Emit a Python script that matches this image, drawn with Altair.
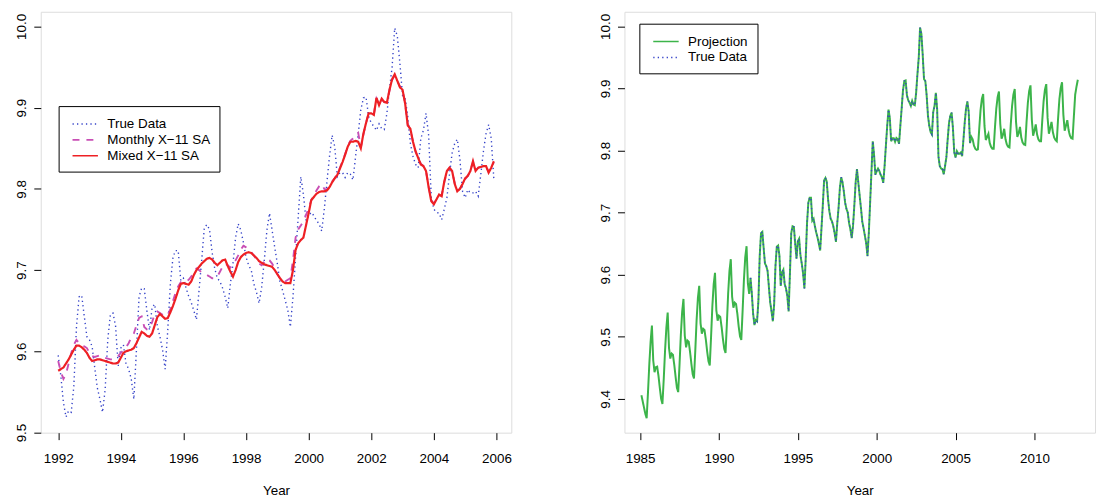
import altair as alt
import pandas as pd

FONT = "Liberation Sans"

# ---------------- data (monthly) ----------------
# True data, Jan 1992 .. Dec 2005
true_data = [
    9.595, 9.570, 9.537, 9.519, 9.527, 9.525, 9.557, 9.630, 9.667, 9.669, 9.643, 9.618,  # 1992
    9.614, 9.606, 9.580, 9.555, 9.541, 9.525, 9.553, 9.614, 9.645, 9.647, 9.631, 9.582,  # 1993
    9.604, 9.608, 9.585, 9.578, 9.566, 9.541, 9.602, 9.667, 9.678, 9.677, 9.650, 9.626,  # 1994
    9.654, 9.658, 9.631, 9.618, 9.602, 9.578, 9.626, 9.683, 9.716, 9.724, 9.724, 9.687,  # 1995
    9.690, 9.678, 9.668, 9.660, 9.650, 9.639, 9.675, 9.712, 9.752, 9.756, 9.750, 9.722,  # 1996
    9.702, 9.690, 9.686, 9.678, 9.667, 9.653, 9.683, 9.708, 9.740, 9.757, 9.749, 9.734,  # 1997
    9.716, 9.706, 9.700, 9.683, 9.673, 9.659, 9.679, 9.712, 9.749, 9.770, 9.749, 9.728,  # 1998
    9.708, 9.686, 9.675, 9.663, 9.651, 9.630, 9.667, 9.716, 9.765, 9.815, 9.793, 9.761,  # 1999
    9.767, 9.771, 9.767, 9.761, 9.757, 9.748, 9.775, 9.808, 9.840, 9.866, 9.852, 9.815,  # 2000
    9.820, 9.820, 9.814, 9.820, 9.818, 9.811, 9.840, 9.868, 9.897, 9.912, 9.913, 9.889,  # 2001
    9.881, 9.877, 9.872, 9.880, 9.874, 9.873, 9.893, 9.923, 9.950, 9.998, 9.988, 9.954,  # 2002
    9.915, 9.912, 9.889, 9.856, 9.840, 9.830, 9.826, 9.862, 9.872, 9.893, 9.866, 9.790,  # 2003
    9.775, 9.771, 9.770, 9.762, 9.775, 9.789, 9.818, 9.844, 9.856, 9.861, 9.836, 9.797,  # 2004
    9.789, 9.799, 9.795, 9.795, 9.797, 9.791, 9.818, 9.846, 9.868, 9.879, 9.862, 9.812,  # 2005
]

# Monthly X-11 seasonally adjusted, Jan 1992 .. Dec 2005
monthly_sa = [
    9.588, 9.575, 9.566, 9.572, 9.585, 9.598, 9.608, 9.614, 9.610, 9.607, 9.606, 9.604,
    9.598, 9.594, 9.593, 9.594, 9.595, 9.594, 9.592, 9.591, 9.590, 9.590, 9.591, 9.594,
    9.598, 9.601, 9.605, 9.610, 9.617, 9.622, 9.632, 9.641, 9.643, 9.630, 9.627, 9.628,
    9.636, 9.646, 9.649, 9.647, 9.645, 9.643, 9.645, 9.652, 9.662, 9.672, 9.680, 9.685,
    9.687, 9.686, 9.688, 9.692, 9.698, 9.702, 9.700, 9.697, 9.696, 9.694, 9.692, 9.690,
    9.690, 9.692, 9.698, 9.704, 9.708, 9.706, 9.703, 9.708, 9.712, 9.718, 9.725, 9.730,
    9.728, 9.725, 9.722, 9.718, 9.713, 9.708, 9.706, 9.710, 9.714, 9.712, 9.708, 9.702,
    9.695, 9.690, 9.686, 9.686, 9.688, 9.690, 9.712, 9.740, 9.750, 9.755, 9.760, 9.768,
    9.776, 9.786, 9.792, 9.798, 9.803, 9.806, 9.800, 9.799, 9.803, 9.809, 9.813, 9.818,
    9.826, 9.834, 9.843, 9.853, 9.859, 9.862, 9.866, 9.869, 9.851, 9.867, 9.881, 9.893,
    9.894, 9.892, 9.911, 9.904, 9.910, 9.907, 9.907, 9.921, 9.934, 9.940, 9.933, 9.926,
    9.921, 9.905, 9.879, 9.873, 9.858, 9.846, 9.838, 9.831, 9.828, 9.822, 9.803, 9.786,
    9.782, 9.787, 9.792, 9.792, 9.808, 9.821, 9.826, 9.822, 9.807, 9.798, 9.800, 9.806,
    9.812, 9.816, 9.822, 9.833, 9.823, 9.826, 9.827, 9.828, 9.828, 9.821, 9.826, 9.833,
]

# Mixed X-11 seasonally adjusted, Jan 1992 .. Dec 2005
mixed_sa = [
    9.576, 9.578, 9.580, 9.585, 9.590, 9.596, 9.602, 9.607, 9.607, 9.605, 9.602, 9.598,
    9.592, 9.588, 9.589, 9.590, 9.590, 9.589, 9.588, 9.587, 9.586, 9.585, 9.585, 9.586,
    9.592, 9.598, 9.600, 9.601, 9.602, 9.604, 9.610, 9.617, 9.624, 9.622, 9.619, 9.618,
    9.622, 9.632, 9.642, 9.646, 9.643, 9.640, 9.641, 9.648, 9.656, 9.665, 9.675, 9.683,
    9.684, 9.683, 9.682, 9.686, 9.694, 9.700, 9.704, 9.708, 9.711, 9.714, 9.715, 9.713,
    9.709, 9.706, 9.709, 9.712, 9.713, 9.705, 9.698, 9.692, 9.700, 9.710, 9.716, 9.719,
    9.721, 9.722, 9.721, 9.718, 9.715, 9.711, 9.709, 9.707, 9.706, 9.705, 9.704, 9.700,
    9.695, 9.690, 9.686, 9.684, 9.684, 9.684, 9.700, 9.725, 9.733, 9.737, 9.740, 9.755,
    9.770, 9.786, 9.790, 9.794, 9.796, 9.797, 9.797, 9.798, 9.802, 9.808, 9.813, 9.817,
    9.825, 9.833, 9.842, 9.852, 9.858, 9.858, 9.859, 9.858, 9.850, 9.868, 9.881, 9.893,
    9.893, 9.891, 9.912, 9.903, 9.911, 9.907, 9.906, 9.922, 9.935, 9.941, 9.933, 9.925,
    9.922, 9.905, 9.878, 9.874, 9.858, 9.846, 9.838, 9.830, 9.828, 9.822, 9.802, 9.785,
    9.781, 9.787, 9.793, 9.791, 9.809, 9.822, 9.826, 9.822, 9.806, 9.797, 9.800, 9.806,
    9.813, 9.816, 9.822, 9.834, 9.822, 9.826, 9.827, 9.828, 9.828, 9.820, 9.826, 9.834,
]

# Projection before the true data, Feb 1985 .. Dec 1991
projection_before = [
    9.406, 9.396, 9.386, 9.376, 9.369, 9.410, 9.455, 9.492, 9.518, 9.462, 9.443,  # 1985
    9.451, 9.452, 9.437, 9.418, 9.400, 9.392, 9.432, 9.478, 9.515, 9.539, 9.482, 9.465,  # 1986
    9.473, 9.471, 9.455, 9.436, 9.418, 9.411, 9.455, 9.503, 9.540, 9.561, 9.502, 9.483,  # 1987
    9.494, 9.492, 9.476, 9.457, 9.440, 9.433, 9.478, 9.527, 9.563, 9.582, 9.522, 9.505,  # 1988
    9.513, 9.511, 9.496, 9.477, 9.461, 9.454, 9.500, 9.550, 9.585, 9.603, 9.543, 9.526,  # 1989
    9.534, 9.532, 9.516, 9.497, 9.481, 9.474, 9.520, 9.570, 9.606, 9.625, 9.565, 9.547,  # 1990
    9.555, 9.553, 9.537, 9.517, 9.501, 9.495, 9.542, 9.592, 9.628, 9.646, 9.586, 9.569,  # 1991
]

# Projection after the true data, Jan 2006 .. Oct 2012
projection_after = [
    9.822, 9.818, 9.808, 9.803, 9.801, 9.802, 9.835, 9.865, 9.883, 9.891, 9.840, 9.817,  # 2006
    9.822, 9.827, 9.812, 9.806, 9.803, 9.803, 9.838, 9.868, 9.886, 9.895, 9.843, 9.819,  # 2007
    9.825, 9.835, 9.818, 9.810, 9.806, 9.805, 9.842, 9.872, 9.890, 9.899, 9.846, 9.822,  # 2008
    9.828, 9.838, 9.821, 9.813, 9.810, 9.809, 9.846, 9.877, 9.896, 9.905, 9.850, 9.824,  # 2009
    9.832, 9.842, 9.826, 9.818, 9.815, 9.815, 9.850, 9.880, 9.898, 9.907, 9.853, 9.827,  # 2010
    9.836, 9.846, 9.830, 9.821, 9.817, 9.815, 9.852, 9.883, 9.901, 9.910, 9.858, 9.832,  # 2011
    9.840, 9.849, 9.833, 9.824, 9.820, 9.819, 9.855, 9.890, 9.903, 9.914,              # 2012
]

left_series = ["True Data", "Monthly X\u221211 SA", "Mixed X\u221211 SA"]
right_series = ["Projection", "True Data"]

left_x_ticks = [1992, 1994, 1996, 1998, 2000, 2002, 2004, 2006]
left_y_ticks = [9.5, 9.6, 9.7, 9.8, 9.9, 10.0]
right_x_ticks = [1985, 1990, 1995, 2000, 2005, 2010]
right_y_ticks = [9.4, 9.5, 9.6, 9.7, 9.8, 9.9, 10.0]

# ---------------- tables ----------------
t_true = [1992 + i / 12 for i in range(len(true_data))]
left_rows = []
for name, vals in zip(left_series, [true_data, monthly_sa, mixed_sa]):
    for t, v in zip(t_true, vals):
        left_rows.append({"series": name, "t": t, "v": v})
df_left = pd.DataFrame(left_rows)

projection = projection_before + true_data + projection_after
t_proj = [1985 + (1 + i) / 12 for i in range(len(projection))]
right_rows = [{"series": "Projection", "t": t, "v": v} for t, v in zip(t_proj, projection)]
right_rows += [{"series": "True Data", "t": t, "v": v} for t, v in zip(t_true, true_data)]
df_right = pd.DataFrame(right_rows)

BLUE = "#3442c8"
MAGENTA = "#c94fb5"
RED = "#ee2024"
GREEN = "#3cb44a"


def make_legend(x, y):
    return alt.Legend(
        title=None, orient="none", legendX=x, legendY=y,
        symbolType="M-0.5,0H2.7", symbolSize=256, symbolStrokeWidth=1.6,
        labelFont=FONT, labelFontSize=13.5, labelColor="black", labelLimit=300,
        labelOffset=22, rowPadding=-0.5, padding=9,
        strokeColor="black", fillColor="white", cornerRadius=0,
    )


def x_axis(ticks):
    return alt.Axis(values=ticks, format="d", title="Year", tickSize=7, tickColor="black",
                    labelPadding=12, labelFont=FONT, labelFontSize=13.5, labelColor="black",
                    titleFont=FONT, titleFontSize=13.5, titleFontWeight="normal",
                    titleColor="black", titlePadding=19, domain=False, grid=False,
                    labelFlush=False, labelOverlap=False)


def y_axis(ticks):
    return alt.Axis(values=ticks, format=".1f", title=None, tickSize=7, tickColor="black",
                    labelAngle=270, labelAlign="center", labelBaseline="bottom",
                    labelPadding=5, labelFont=FONT, labelFontSize=13.5, labelColor="black",
                    domain=False, grid=False, minExtent=32, maxExtent=32,
                    labelFlush=False, labelOverlap=False)


# ---------------- left panel ----------------
lx = alt.X("t:Q", scale=alt.Scale(domain=[1991.443, 2006.474], nice=False, zero=False),
           axis=x_axis(left_x_ticks))
ly = alt.Y("v:Q", scale=alt.Scale(domain=[9.4998, 10.018], nice=False, zero=False),
           axis=y_axis(left_y_ticks))
lleg = make_legend(18, 95)
lcolor = alt.Color("series:N", scale=alt.Scale(domain=left_series, range=[BLUE, MAGENTA, RED]),
                   legend=lleg)
ldash = alt.StrokeDash("series:N", scale=alt.Scale(domain=left_series,
                                                   range=[[1.3, 3.2], [7, 7], [1, 0]]),
                       legend=lleg)
lbase = alt.Chart(df_left).encode(x=lx, y=ly, color=lcolor, strokeDash=ldash)
left = alt.layer(
    lbase.transform_filter(alt.datum.series == left_series[0]).mark_line(strokeWidth=1.4),
    lbase.transform_filter(alt.datum.series == left_series[1]).mark_line(strokeWidth=1.9),
    lbase.transform_filter(alt.datum.series == left_series[2]).mark_line(strokeWidth=2.2),
).properties(width=474, height=424)

# ---------------- right panel ----------------
rx = alt.X("t:Q", scale=alt.Scale(domain=[1984.01, 2013.84], nice=False, zero=False),
           axis=x_axis(right_x_ticks))
ry = alt.Y("v:Q", scale=alt.Scale(domain=[9.3456, 10.0235], nice=False, zero=False),
           axis=y_axis(right_y_ticks))
rleg = make_legend(15, 12)
rcolor = alt.Color("series:N", scale=alt.Scale(domain=right_series, range=[GREEN, BLUE]),
                   legend=rleg)
rdash = alt.StrokeDash("series:N", scale=alt.Scale(domain=right_series,
                                                   range=[[1, 0], [1.3, 3.2]]),
                       legend=rleg)
rbase = alt.Chart(df_right).encode(x=rx, y=ry, color=rcolor, strokeDash=rdash)
right = alt.layer(
    rbase.transform_filter(alt.datum.series == "Projection").mark_line(strokeWidth=2.0),
    rbase.transform_filter(alt.datum.series == "True Data").mark_line(strokeWidth=1.4),
).properties(width=474, height=424)

chart = alt.hconcat(left, right, spacing=80).resolve_scale(
    x="independent", y="independent", color="independent", strokeDash="independent"
).resolve_legend(color="independent", strokeDash="independent").properties(
    padding={"left": 0, "top": 1, "right": 0, "bottom": 0}
).configure_view(stroke="black", strokeWidth=1.2).configure(background="white")

chart.save("out.html", embed_options={"renderer": "svg", "actions": False})
